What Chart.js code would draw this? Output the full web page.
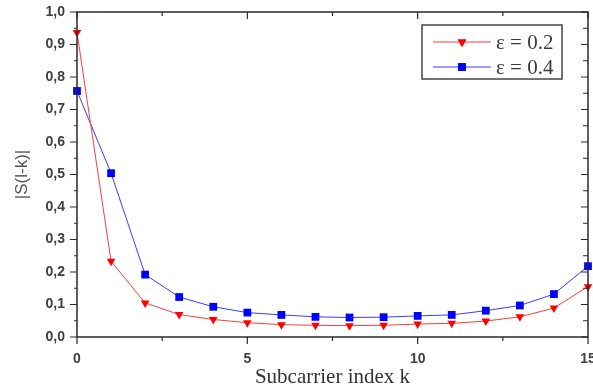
<!DOCTYPE html>
<html>
<head>
<meta charset="utf-8">
<script src="https://cdn.jsdelivr.net/npm/chart.js@4/dist/chart.umd.min.js"></script>
<style>
  html, body { margin: 0; padding: 0; background: #fff; overflow: hidden; }
  #wrap { width: 600px; height: 390px; }
</style>
</head>
<body>
<div id="wrap"><canvas id="myChart" width="600" height="390"></canvas></div>
<script>
// subcarrier index k
const kValues = [0, 1, 2, 3, 4, 5, 6, 7, 8, 9, 10, 11, 12, 13, 14, 15];
// |S(l-k)| for eps = 0.2
const eps02 = [0.937, 0.233, 0.105, 0.069, 0.054, 0.044, 0.038, 0.036, 0.035, 0.036, 0.04, 0.042, 0.049, 0.062, 0.089, 0.155];
// |S(l-k)| for eps = 0.4
const eps04 = [0.757, 0.504, 0.192, 0.123, 0.093, 0.075, 0.068, 0.062, 0.06, 0.061, 0.065, 0.068, 0.081, 0.097, 0.132, 0.218];
const seriesNames = ['\u03b5 = 0.2', '\u03b5 = 0.4'];

const axisColor = '#2a2a2a';
const tickFont = { family: 'Liberation Sans', size: 14, weight: 'bold' };

const toPoints = (vals) => kValues.map((k, i) => ({ x: k, y: vals[i] }));

// frame + ticks like the original plot (outward on left/bottom, inward on top/right)
const framePlugin = {
  id: 'frame',
  afterDraw(chart) {
    const ctx = chart.ctx;
    const a = chart.chartArea;
    const xs = chart.scales.x;
    const ys = chart.scales.y;
    ctx.save();
    ctx.strokeStyle = axisColor;
    ctx.lineWidth = 1.5;
    ctx.strokeRect(a.left, a.top, a.right - a.left, a.bottom - a.top);
    ctx.lineWidth = 1.2;
    ctx.beginPath();
    xs.ticks.forEach((t, i) => {
      const px = xs.getPixelForValue(t.value);
      const len = i % 2 === 0 ? 7 : 4;
      ctx.moveTo(px, a.bottom); ctx.lineTo(px, a.bottom + len);
      ctx.moveTo(px, a.top); ctx.lineTo(px, a.top + len);
    });
    ys.ticks.forEach((t, i) => {
      const py = ys.getPixelForValue(t.value);
      const len = i % 2 === 0 ? 7 : 3;
      ctx.moveTo(a.left, py); ctx.lineTo(a.left - len, py);
      ctx.moveTo(a.right, py); ctx.lineTo(a.right - (i % 2 === 0 ? 7 : 5), py);
    });
    ctx.stroke();
    ctx.restore();
  }
};

// boxed legend inside the plot, line through marker
const boxLegend = {
  id: 'boxLegend',
  afterDraw(chart) {
    const ctx = chart.ctx;
    const a = chart.chartArea;
    const w = 140, h = 54;
    const left = a.right - 26 - w;
    const top = a.top + 13;
    ctx.save();
    ctx.strokeStyle = '#444';
    ctx.lineWidth = 1.5;
    ctx.strokeRect(left, top, w, h);
    chart.data.datasets.forEach((ds, i) => {
      const y = top + 17 + i * 25;
      ctx.strokeStyle = ds.borderColor;
      ctx.lineWidth = 1;
      ctx.beginPath();
      ctx.moveTo(left + 11, y); ctx.lineTo(left + 69, y);
      ctx.stroke();
      Chart.helpers.drawPoint(ctx, {
        pointStyle: ds.pointStyle,
        rotation: ds.rotation || 0,
        borderWidth: 0,
        radius: ds.pointRadius
      }, left + 40, y);
      ctx.fillStyle = ds.pointBackgroundColor;
      ctx.fill();
      ctx.fillStyle = '#3a3a3a';
      ctx.font = '21px "Liberation Serif"';
      ctx.textBaseline = 'middle';
      ctx.fillText(seriesNames[i], left + 74, y + 1);
    });
    ctx.restore();
  }
};

const ctx = document.getElementById('myChart').getContext('2d');
new Chart(ctx, {
  type: 'line',
  data: {
    datasets: [
      {
        label: seriesNames[0],
        data: toPoints(eps02),
        borderColor: '#ff3b3b',
        borderWidth: 1,
        pointStyle: 'triangle',
        rotation: 180,
        pointRadius: 5,
        pointBackgroundColor: '#ff0000',
        pointBorderWidth: 0,
        clip: false
      },
      {
        label: seriesNames[1],
        data: toPoints(eps04),
        borderColor: '#3b3bff',
        borderWidth: 1,
        pointStyle: 'rect',
        pointRadius: 5.5,
        pointBackgroundColor: '#0000ff',
        pointBorderWidth: 0,
        clip: false
      }
    ]
  },
  options: {
    responsive: false,
    animation: false,
    layout: { padding: { left: 12, top: 12, right: 12, bottom: 0 } },
    plugins: {
      legend: { display: false },
      tooltip: { enabled: false }
    },
    scales: {
      x: {
        type: 'linear',
        min: 0,
        max: 15,
        grid: { display: false, drawTicks: false },
        border: { display: false },
        ticks: {
          stepSize: 2.5,
          padding: 14,
          color: '#404040',
          font: tickFont,
          maxRotation: 0,
          autoSkip: false,
          callback: (v, i) => (i % 2 === 0 ? String(v) : '')
        },
        title: {
          display: true,
          text: 'Subcarrier index k',
          color: '#333',
          font: { family: 'Liberation Serif', size: 21 },
          padding: { top: 0, bottom: 0 }
        },
        afterFit: (s) => { s.height = 53; s.paddingLeft = 0; s.paddingRight = 0; }
      },
      y: {
        min: 0,
        max: 1,
        grid: { display: false, drawTicks: false },
        border: { display: false },
        ticks: {
          stepSize: 0.05,
          padding: 12,
          color: '#404040',
          font: tickFont,
          autoSkip: false,
          callback: (v, i) => (i % 2 === 0 ? v.toFixed(1).replace('.', ',') : '')
        },
        title: {
          display: true,
          text: '|S(l-k)|',
          color: '#555',
          font: { family: 'Liberation Sans', size: 17 },
          padding: { top: 0, bottom: 0 }
        },
        afterFit: (s) => { s.width = 65; s.paddingTop = 0; s.paddingBottom = 0; }
      }
    }
  },
  plugins: [framePlugin, boxLegend]
});
</script>
</body>
</html>
